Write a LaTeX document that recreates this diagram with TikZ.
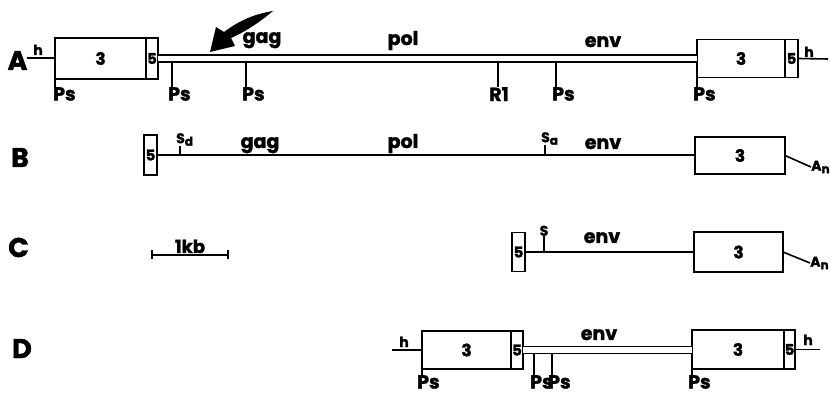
\documentclass[tikz,border=0pt]{standalone}
\usepackage{fontspec}
\setmainfont{Poppins}[BoldFeatures={FakeBold=1.6}]
\usetikzlibrary{arrows.meta,positioning}
\tikzset{
  gbox/.style={draw, line width=1.5pt, inner sep=0pt, outer sep=0pt},
  u3/.style={gbox, font=\fontsize{17}{17}\selectfont\bfseries},
  u5/.style={gbox, minimum width=12pt, font=\fontsize{15}{15}\selectfont\bfseries},
  ln/.style={line width=1.6pt},
  dbl/.style={line width=1.6pt, double, double distance=5.5pt},
  gene/.style={font=\fontsize{19}{19}\selectfont\bfseries, anchor=base, inner sep=0pt},
  site/.style={font=\fontsize{19}{19}\selectfont\bfseries, inner sep=0pt, anchor=north west},
  tiny/.style={font=\fontsize{14}{14}\selectfont\bfseries, inner sep=0pt},
  rowlbl/.style={font=\fontsize{27}{27}\selectfont\bfseries, anchor=base, inner sep=0pt},
}
\newcommand{\lowsub}[1]{\raisebox{-2.5pt}{\fontsize{12}{12}\selectfont #1}}

\begin{document}
\begin{tikzpicture}[x=1pt, y=-1pt]
  \useasboundingbox (0,0) rectangle (830,395);

  \node[rowlbl] (la) at (17.5,70) {A};
  \node[rowlbl] (lb) at (20,167) {B};
  \node[rowlbl] (lc) at (18.5,257) {C};
  \node[rowlbl] (ld) at (22,358) {D};

  % provirus
  \node[u3, minimum width=91pt, minimum height=41pt] (a3) at (100.5,58.5) {3};
  \node[u5, minimum height=41pt, right=0pt of a3] (a5) {5};
  \node[u3, minimum width=88pt, minimum height=38pt] (ar3) at (741,58.5) {3};
  \node[u5, minimum width=13pt, minimum height=38pt, right=0pt of ar3] (ar5) {5};
  \coordinate (ah0) at (27,58);
  \coordinate (ah1) at (828,59);
  \draw[ln] (ah0) -- (ah0 -| a3.west);
  \draw[ln] (ar5.east) -- (ah1);
  \draw[dbl] (a5.east) -- (ar3.west);
  \node[tiny, anchor=base] (ha0) at (38,55) {h};
  \node[tiny, anchor=base] (ha1) at (809,57) {h};
  \node[gene] (ga) at (262,43) {gag};
  \node[gene] (pa) at (403,45) {pol};
  \node[gene] (ea) at (603,47) {env};
  \fill (210,52) -- (216,27) -- (224,32) .. controls (240,20) and (255,14) .. (273,11)
        .. controls (260,22) and (245,32) .. (231,38) -- (235,46) -- cycle;
  \node[site] (pa1) at (53,87) {Ps};
  \node[site] (pa6) at (693,87) {Ps};
  \draw[ln] (a3.south west) -- (a3.south west |- pa1.north);
  \draw[ln] (ar3.south west) -- (ar3.south west |- pa6.north);
  \foreach \x/\n in {172/pa2, 246/pa3, 556/pa5}{
    \coordinate (t\n) at (\x,62.5);
    \node[site] (\n) at (\x-4,87) {Ps};
    \draw[ln] (t\n) -- (t\n |- \n.north);
  }
  \node[site, anchor=north] (ra) at (499,87) {R1};
  \coordinate (tra) at (498,62.5);
  \draw[ln] (tra) -- (tra |- ra.north);

  % genomic RNA
  \node[u5, minimum width=13pt, minimum height=40pt] (b5) at (150.5,155) {5};
  \node[u3, minimum width=90pt, minimum height=37pt] (b3) at (740,155.5) {3};
  \draw[ln] (b5.east) -- (b5.east -| b3.west);
  \coordinate (sd) at (180,155);
  \coordinate (sa) at (545,155);
  \node[tiny, anchor=south west] (sdl) at (176,146) {S\lowsub{d}};
  \node[tiny, anchor=south west] (sal) at (541,145) {S\lowsub{a}};
  \draw[ln] (sd) -- (sd |- sdl.south);
  \draw[ln] (sa) -- (sa |- sal.south);
  \node[gene] (gb) at (260,148) {gag};
  \node[gene] (pb) at (403,148) {pol};
  \node[gene] (eb) at (603,149) {env};
  \coordinate (anb) at (811,167);
  \draw[ln] (b3.east) -- (anb);
  \node[tiny, anchor=west] (anbl) at (anb) {A\lowsub{n}};

  % env mRNA
  \node[u5, minimum width=13pt, minimum height=39pt] (c5) at (518.5,252) {5};
  \node[u3, minimum width=89pt, minimum height=40pt] (c3) at (738.5,252) {3};
  \draw[ln] (c5.east) -- (c5.east -| c3.west);
  \coordinate (sc) at (544,252);
  \node[tiny, anchor=south] (scl) at (544,236) {S};
  \draw[ln] (sc) -- (sc |- scl.south);
  \node[gene] (ec) at (602,243) {env};
  \coordinate (anc) at (810,263);
  \draw[ln] (c3.east) -- (anc);
  \node[tiny, anchor=west] (ancl) at (anc) {A\lowsub{n}};
  \coordinate (k0) at (151,255);
  \coordinate (k1) at (229,255);
  \draw[ln, {Bar[width=9pt]}-{Bar[width=9pt]}] (k0) -- (k1);
  \node[gene, font=\fontsize{18}{18}\selectfont\bfseries] (kb) at (190,253) {1kb};

  % deleted provirus
  \node[u3, minimum width=89pt, minimum height=38pt] (d3) at (466.5,350) {3};
  \node[u5, minimum height=38pt, right=0pt of d3] (d5) {5};
  \node[u3, minimum width=92pt, minimum height=39pt] (dr3) at (738,349.5) {3};
  \node[u5, minimum width=11pt, minimum height=39pt, right=0pt of dr3] (dr5) {5};
  \coordinate (dh0) at (392,350);
  \coordinate (dh1) at (820,349.5);
  \draw[ln] (dh0) -- (dh0 -| d3.west);
  \draw[ln] (dr5.east) -- (dh1);
  \draw[dbl] (d5.east) -- (d5.east -| dr3.west);
  \node[tiny, anchor=base] (hd0) at (404,347) {h};
  \node[tiny, anchor=base] (hd1) at (808,345) {h};
  \node[gene] (ed) at (599,340) {env};
  \node[site] (pd1) at (417,375) {Ps};
  \node[site] (pd4) at (688,375) {Ps};
  \draw[ln] (d3.south west) -- (d3.south west |- pd1.north);
  \draw[ln] (dr3.south west) -- (dr3.south west |- pd4.north);
  \foreach \x/\n in {534/pd2, 552/pd3}{
    \coordinate (t\n) at (\x,354);
    \node[site] (\n) at (\x-4,375) {Ps};
    \draw[ln] (t\n) -- (t\n |- \n.north);
  }
\end{tikzpicture}
\end{document}
